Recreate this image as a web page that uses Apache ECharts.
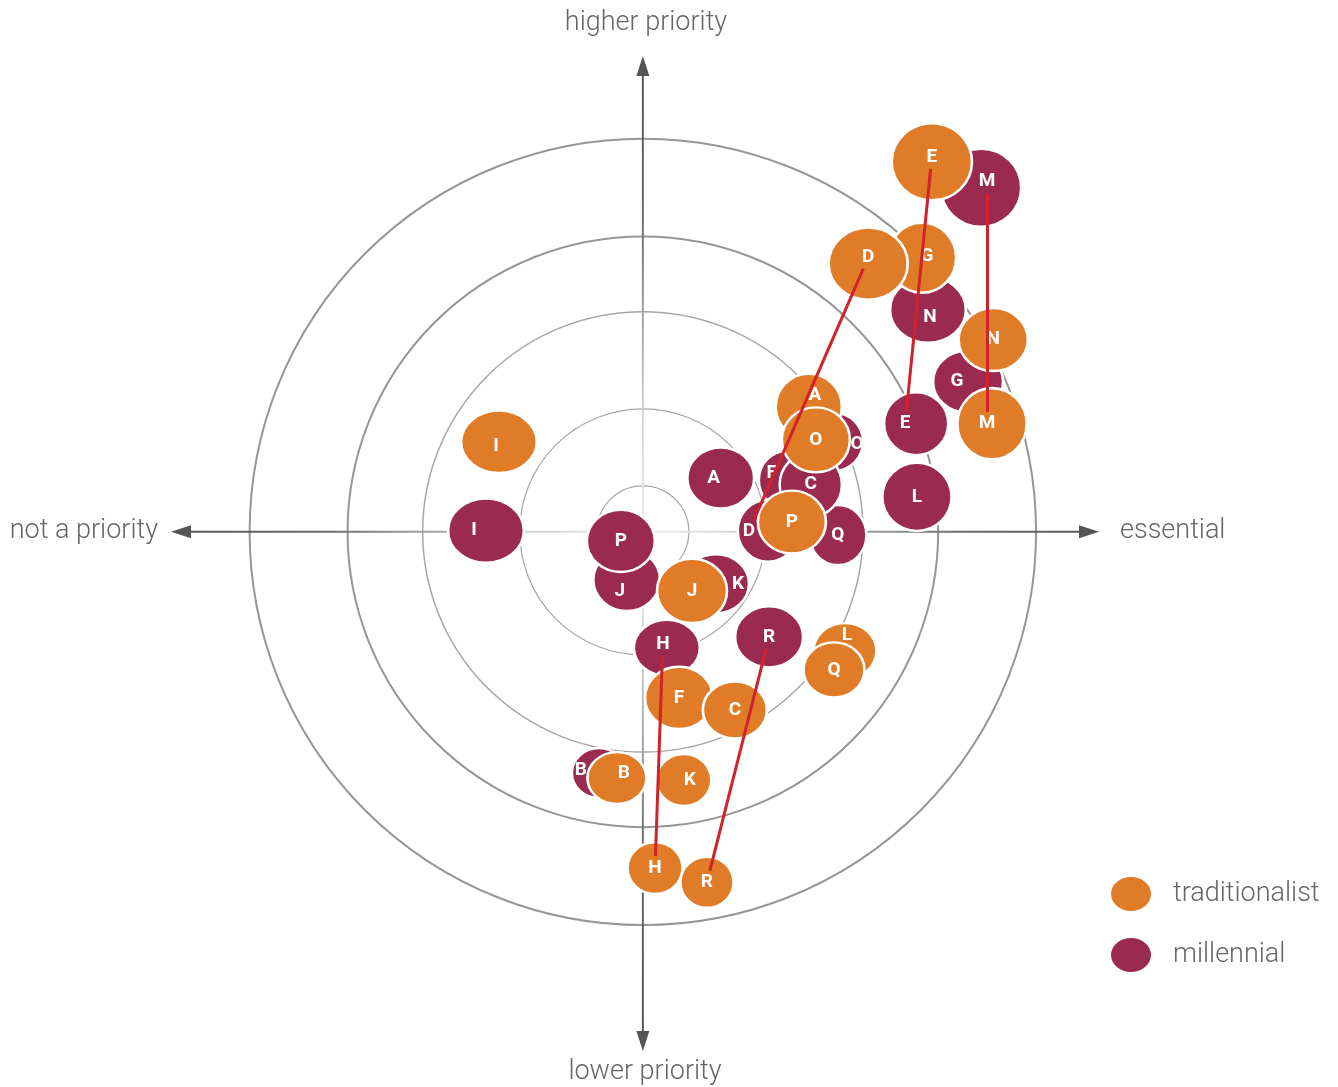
<!DOCTYPE html>
<html>
<head>
<meta charset="utf-8">
<script src="https://cdn.jsdelivr.net/npm/echarts@6/dist/echarts.min.js"></script>
<style>
  html, body { margin: 0; padding: 0; background: #fff; }
  #main-chart { width: 1338px; height: 1087px; }
</style>
</head>
<body>
<div id="main-chart"></div>
<script>
// priority map: x = not a priority .. essential, y = lower .. higher priority
// units: outer ring = 100
const rings = [11.7, 31.3, 56.0, 75.1, 100];

// traditionalist (drawn in this order, later ones on top)
const tradLetters = ['A', 'G', 'F', 'L', 'B', 'E', 'H', 'I', 'J', 'K', 'M', 'N', 'R', 'D', 'O', 'C', 'Q', 'P'];
const tradX =       [42.2, 71.0, 9.2, 51.4, -6.6, 73.5, 3.1, -36.6, 12.5, 10.4, 88.8, 89.1, 16.3, 57.3, 44.0, 23.4, 48.6, 37.9];
const tradY =       [31.8, 69.7, -42.2, -30.3, -62.6, 94.1, -85.5, 22.9, -15.0, -63.1, 27.5, 48.9, -89.1, 68.2, 23.4, -45.3, -35.1, 2.5];
const tradWidth =   [16.8, 17.3, 17.3, 16.0, 15.0, 20.4, 14.0, 19.3, 17.8, 14.0, 17.6, 17.6, 13.5, 20.1, 17.3, 16.3, 15.5, 17.3];
const tradHeight =  [16.8, 17.8, 15.8, 14.2, 13.2, 19.6, 13.2, 15.8, 16.3, 13.2, 18.1, 16.0, 13.0, 18.3, 16.5, 14.5, 14.0, 16.0];

// millennial
const millLetters = ['O', 'F', 'Q', 'D', 'C', 'J', 'P', 'A', 'B', 'E', 'G', 'H', 'I', 'K', 'L', 'M', 'N', 'R'];
const millX =       [48.6, 36.6, 49.6, 31.8, 42.7, -4.1, -5.6, 19.8, -11.2, 69.5, 82.7, 6.1, -39.9, 18.6, 69.7, 86.0, 72.5, 32.1];
const millY =       [22.9, 13.2, -0.8, 0.3, 12.0, -12.2, -2.3, 13.7, -61.3, 27.5, 38.2, -29.5, 0.3, -13.2, 8.9, 87.5, 56.5, -26.7];
const millWidth =   [14.8, 14.2, 14.5, 15.3, 15.8, 17.0, 17.3, 17.0, 13.7, 16.3, 17.8, 16.8, 19.3, 16.8, 17.6, 20.4, 19.3, 17.3];
const millHeight =  [14.8, 14.8, 15.3, 15.8, 16.3, 15.8, 15.8, 15.5, 12.7, 16.0, 15.8, 14.2, 16.3, 15.0, 17.3, 19.8, 16.8, 15.5];

// items that moved between the two groups
const shifted = ['E', 'M', 'D', 'H', 'R'];

const axisEnds = [[-120, 0, 116, 0], [0, 121, 0, -132]];
const axisTitles = ['higher priority', 'lower priority', 'not a priority', 'essential'];

const xMin = -120, xMax = 116, yMin = -132, yMax = 121;
const gridLeft = 171, gridRight = 239, gridTop = 56, gridBottom = 36;
const ppu = (1338 - gridLeft - gridRight) / (xMax - xMin);

const ORANGE = '#E07C28';
const MAROON = '#9A2A4F';
const ELLIPSE = 'path://M0,50 A50,50 0 1,1 100,50 A50,50 0 1,1 0,50 Z';

// label nudges (px) for bubbles that are partly covered
const labelNudge = {
  trad: { A: [6, -12], L: [2, -16], B: [7, -5], K: [6, 0], E: [0, -5], D: [0, -6], M: [-5, 0], G: [5, -2], I: [-3, 4] },
  mill: { A: [-7, 0], B: [-18, -3], D: [-19, 1], E: [-11, 0], F: [-15, -7], G: [-11, 0], I: [-12, 0],
          J: [-7, 11], K: [22, 0], M: [6, -6], N: [2, 8], O: [23, 2], H: [-4, -4] }
};

const buildPoints = (letters, xs, ys, ws, hs, nudge) => {
  return letters.map((l, i) => {
    let item = { name: l, value: [xs[i], ys[i], ws[i], hs[i]] };
    if (nudge[l]) item.label = { offset: nudge[l] };
    return item;
  });
};

const tradData = buildPoints(tradLetters, tradX, tradY, tradWidth, tradHeight, labelNudge.trad);
const millData = buildPoints(millLetters, millX, millY, millWidth, millHeight, labelNudge.mill);

// connector runs between the two letters, stopping short of each
const labelPoint = (xs, ys, letters, nudge, l) => {
  let i = letters.indexOf(l);
  let n = nudge[l] || [0, 0];
  return [xs[i] + n[0] / ppu, ys[i] - n[1] / ppu];
};
const trim = 12 / ppu;
const shiftLines = shifted.map(l => {
  let a = labelPoint(tradX, tradY, tradLetters, labelNudge.trad, l);
  let b = labelPoint(millX, millY, millLetters, labelNudge.mill, l);
  let len = Math.hypot(b[0] - a[0], b[1] - a[1]);
  let ux = (b[0] - a[0]) / len, uy = (b[1] - a[1]) / len;
  return { coords: [[a[0] + ux * trim, a[1] + uy * trim], [b[0] - ux * trim, b[1] - uy * trim]] };
});

const renderRing = (params, api) => {
  let c = api.coord([0, 0]);
  let r = api.size([api.value(0), 0])[0];
  let outer = params.dataIndex >= 3;
  return {
    type: 'circle',
    silent: true,
    shape: { cx: c[0], cy: c[1], r: r },
    style: { fill: null, stroke: outer ? '#969696' : '#a6a6a6', lineWidth: outer ? 2 : (params.dataIndex == 2 ? 1.5 : 1.2) }
  };
};

const fade = [[0, '#ececec'], [31, '#d2d2d2'], [56, '#a0a0a0'], [80, '#6c6c6c'], [125, '#555']];

const renderAxis = (params, api) => {
  let a = api.coord([api.value(0), api.value(1)]);
  let b = api.coord([api.value(2), api.value(3)]);
  let c = api.coord([0, 0]);
  let len = Math.hypot(b[0] - a[0], b[1] - a[1]);
  let ux = (b[0] - a[0]) / len, uy = (b[1] - a[1]) / len;
  let t0 = Math.hypot(c[0] - a[0], c[1] - a[1]) / len;
  let stops = [];
  for (let i = fade.length - 1; i >= 0; i--) {
    let d = api.size([fade[i][0], 0])[0] / len;
    stops.push({ offset: Math.min(1, Math.max(0, t0 - d)), color: fade[i][1] });
  }
  for (let i = 1; i < fade.length; i++) {
    let d = api.size([fade[i][0], 0])[0] / len;
    stops.push({ offset: Math.min(1, Math.max(0, t0 + d)), color: fade[i][1] });
  }
  let head = 20, half = 6.5;
  let arrow = (tip, dx, dy) => ({
    type: 'polygon',
    silent: true,
    shape: { points: [tip, [tip[0] - dx * head - dy * half, tip[1] - dy * head + dx * half],
                      [tip[0] - dx * head + dy * half, tip[1] - dy * head - dx * half]] },
    style: { fill: '#555' }
  });
  return {
    type: 'group',
    children: [
      {
        type: 'line',
        silent: true,
        shape: { x1: a[0] + ux * 10, y1: a[1] + uy * 10, x2: b[0] - ux * 10, y2: b[1] - uy * 10 },
        style: { stroke: new echarts.graphic.LinearGradient(a[0], a[1], b[0], b[1], stops, true), lineWidth: 2 }
      },
      arrow(a, -ux, -uy),
      arrow(b, ux, uy)
    ]
  };
};

const titleText = (text, x, y, align) => ({
  type: 'text',
  x: x,
  y: y,
  silent: true,
  style: { text: text, fill: '#666', fontSize: 27, fontWeight: 300, fontFamily: 'Roboto', align: align, verticalAlign: 'middle' }
});

const bubbleSeries = (name, color, data, z) => ({
  name: name,
  type: 'scatter',
  z: z,
  symbol: ELLIPSE,
  symbolSize: (val) => [val[2] * ppu, val[3] * ppu],
  itemStyle: { color: color, opacity: 1, borderColor: '#fff', borderWidth: 2.5 },
  label: {
    show: true,
    position: 'inside',
    formatter: '{b}',
    color: '#fff',
    fontSize: 19,
    fontWeight: 'bold',
    fontFamily: 'Roboto'
  },
  emphasis: { disabled: true },
  data: data
});

let myChart = echarts.init(document.getElementById('main-chart'));
let option = {
  animation: false,
  backgroundColor: '#fff',
  grid: { left: gridLeft, right: gridRight, top: gridTop, bottom: gridBottom },
  xAxis: { type: 'value', min: xMin, max: xMax, show: false },
  yAxis: { type: 'value', min: yMin, max: yMax, show: false },
  legend: {
    data: ['traditionalist', 'millennial'],
    orient: 'vertical',
    left: 1106,
    top: 872,
    itemWidth: 40,
    itemHeight: 34,
    itemGap: 27,
    symbolKeepAspect: false,
    itemStyle: { borderWidth: 0 },
    selectedMode: false,
    textStyle: { color: '#666', fontSize: 27, fontWeight: 300, fontFamily: 'Roboto', padding: [0, 0, 0, 17] }
  },
  graphic: [
    titleText(axisTitles[0], 646, 23, 'center'),
    titleText(axisTitles[1], 645, 1072, 'center'),
    titleText(axisTitles[2], 158, 531, 'right'),
    titleText(axisTitles[3], 1120, 531, 'left')
  ],
  series: [
    {
      type: 'custom',
      z: 1,
      silent: true,
      renderItem: renderRing,
      data: rings.map(r => [r, 0])
    },
    {
      type: 'custom',
      z: 1,
      silent: true,
      renderItem: renderAxis,
      data: axisEnds
    },
    bubbleSeries('millennial', MAROON, millData, 2),
    bubbleSeries('traditionalist', ORANGE, tradData, 3),
    {
      type: 'lines',
      coordinateSystem: 'cartesian2d',
      z: 4,
      silent: true,
      lineStyle: { color: '#D0222B', width: 3, opacity: 1 },
      data: shiftLines
    }
  ]
};
myChart.setOption(option);
</script>
</body>
</html>
